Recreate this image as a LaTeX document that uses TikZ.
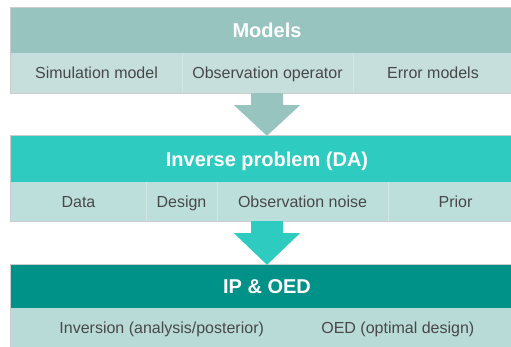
\documentclass[tikz,border=0pt]{standalone}
\usepackage{fontspec}
\setmainfont{Liberation Sans}
\usetikzlibrary{calc}
\definecolor{hdrA}{HTML}{97C4BF}
\definecolor{rowA}{HTML}{C6DFDC}
\definecolor{hdrB}{HTML}{2ECBC1}
\definecolor{rowB}{HTML}{BCDFDC}
\definecolor{hdrC}{HTML}{009189}
\definecolor{rowC}{HTML}{B9DBD8}
\definecolor{bordergray}{HTML}{CCCCCC}
\definecolor{txtgray}{HTML}{484848}
\definecolor{divline}{HTML}{D2E6E3}
\tikzset{
  hdr/.style={rectangle, inner sep=0pt, minimum width=512pt, text=white,
    font=\fontsize{20}{22}\selectfont\bfseries, text height=14.3pt, text depth=0pt},
  rowbg/.style={rectangle, inner sep=0pt, minimum width=512pt},
  cell/.style={rectangle, inner sep=0pt, text=txtgray,
    font=\fontsize{16}{18}\selectfont, text height=11.5pt, text depth=0pt},
  outline/.style={draw=bordergray, line width=0.8pt},
  divider/.style={draw=divline, line width=0.7pt},
}
\begin{document}
\begin{tikzpicture}[x=1pt,y=-1pt]
\useasboundingbox (0,0) rectangle (511,346);
\clip (0,0) rectangle (511,346);
% Box 1
\node[hdr, fill=hdrA, minimum height=45pt] (hdr1) at (267,30.5) {Models};
\node[rowbg, fill=rowA, minimum height=40pt] (row1) at (267,73) {};
\draw[outline] (hdr1.north west) rectangle (row1.south east);
\node[cell, minimum width=171pt, minimum height=40pt] (c11) at (96.5,73) {Simulation model};
\node[cell, minimum width=171pt, minimum height=40pt] (c12) at (267.5,73) {Observation operator};
\node[cell, minimum width=160pt, minimum height=40pt] (c13) at (433,73) {Error models};
\draw[divider] (c11.north east) -- (c11.south east);
\draw[divider] (c12.north east) -- (c12.south east);
% Box 2
\node[hdr, fill=hdrB, minimum height=46pt] (hdr2) at (267,159) {Inverse problem (DA)};
\node[rowbg, fill=rowB, minimum height=39pt] (row2) at (267,201.5) {};
\draw[outline] (hdr2.north west) rectangle (row2.south east);
\node[cell, minimum width=135pt, minimum height=39pt] (c21) at (78.5,201.5) {Data};
\node[cell, minimum width=71pt, minimum height=39pt] (c22) at (181.5,201.5) {Design};
\node[cell, minimum width=171pt, minimum height=39pt] (c23) at (302.5,201.5) {Observation noise};
\node[cell, minimum width=135pt, minimum height=39pt] (c24) at (455.5,201.5) {Prior};
\draw[divider] (c21.north east) -- (c21.south east);
\draw[divider] (c22.north east) -- (c22.south east);
\draw[divider] (c23.north east) -- (c23.south east);
% Box 3
\node[hdr, fill=hdrC, minimum height=43pt] (hdr3) at (267,286.5) {IP \& OED};
\node[rowbg, fill=rowC, minimum height=40pt] (row3) at (267,328) {};
\draw[outline] (hdr3.north west) rectangle (row3.south east);
\node[cell] (c31) at (161.7,328) {Inversion (analysis/posterior)};
\node[cell] (c32) at (397.8,328) {OED (optimal design)};
% Arrows
\fill[hdrA] ($(row1.south)+(-16,0)$) -- ($(row1.south)+(-16,12)$) -- ($(row1.south)+(-33,12)$)
  -- (hdr2.north) -- ($(row1.south)+(33,12)$) -- ($(row1.south)+(16,12)$) -- ($(row1.south)+(16,0)$) -- cycle;
\fill[hdrB] ($(row2.south)+(-16,0)$) -- ($(row2.south)+(-16,12)$) -- ($(row2.south)+(-33,12)$)
  -- (hdr3.north) -- ($(row2.south)+(33,12)$) -- ($(row2.south)+(16,12)$) -- ($(row2.south)+(16,0)$) -- cycle;
\end{tikzpicture}
\end{document}
